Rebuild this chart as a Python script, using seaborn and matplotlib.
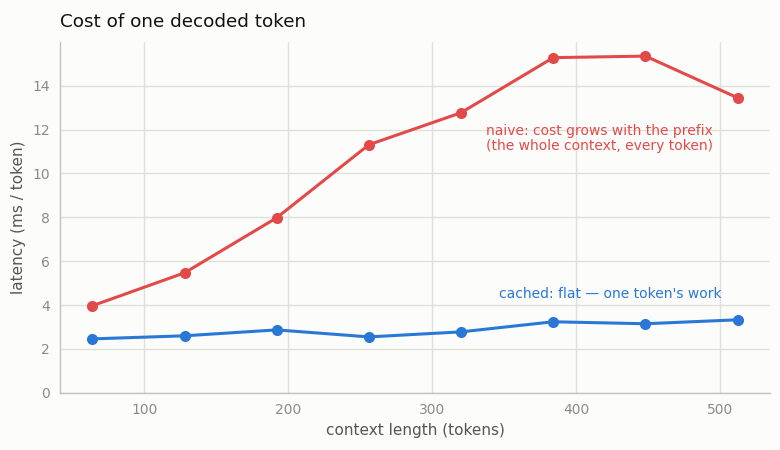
import pandas as pd
import matplotlib
matplotlib.use("Agg")
import matplotlib.pyplot as plt
import seaborn as sns

# values
context_len = [64, 128, 192, 256, 320, 384, 448, 512]
naive_ms = [3.97, 5.47, 7.98, 11.31, 12.77, 15.28, 15.35, 13.45]
cached_ms = [2.46, 2.60, 2.87, 2.55, 2.78, 3.24, 3.15, 3.33]

RED = "#e24a4a"
BLUE = "#2a78d6"
BG = "#fcfcfa"

df = pd.DataFrame({
    "context": context_len * 2,
    "latency": naive_ms + cached_ms,
    "mode": ["naive"] * len(context_len) + ["cached"] * len(context_len),
})

sns.set_theme(style="whitegrid")
plt.rcParams["font.family"] = ["DejaVu Sans"]

fig, ax = plt.subplots(figsize=(7.8, 4.5), dpi=100)
fig.patch.set_facecolor(BG)
ax.set_facecolor(BG)

sns.lineplot(data=df, x="context", y="latency", hue="mode",
             palette={"naive": RED, "cached": BLUE}, marker="o",
             markersize=8, markeredgewidth=0, linewidth=2.2,
             legend=False, ax=ax)

ax.set_ylim(0, 16)
ax.set_yticks([0, 2, 4, 6, 8, 10, 12, 14])
ax.grid(True, color="#e2dfd9", linewidth=1)
for side in ["top", "right"]:
    ax.spines[side].set_visible(False)
for side in ["left", "bottom"]:
    ax.spines[side].set_color("#c4c1bb")
    ax.spines[side].set_linewidth(1)
ax.tick_params(axis="both", colors="#8a8a8a", labelsize=10, length=4,
               width=1, labelcolor="#8a8a8a")
ax.tick_params(axis="both", color="#c4c1bb")

ax.set_xlabel("context length (tokens)", fontsize=11, color="#555555")
ax.set_ylabel("latency (ms / token)", fontsize=11, color="#555555")
ax.set_title("Cost of one decoded token", loc="left", fontsize=13.2,
             color="#111111", pad=11)

ax.text(495, 11.6, "naive: cost grows with the prefix\n(the whole context, every token)",
        color=RED, fontsize=10, ha="right", va="center", linespacing=1.15)
ax.text(501, 4.5, "cached: flat \u2014 one token's work",
        color=BLUE, fontsize=10, ha="right", va="center")

plt.subplots_adjust(left=0.077, right=0.987, top=0.907, bottom=0.127)
plt.savefig("out.png", dpi=100, facecolor=BG)
